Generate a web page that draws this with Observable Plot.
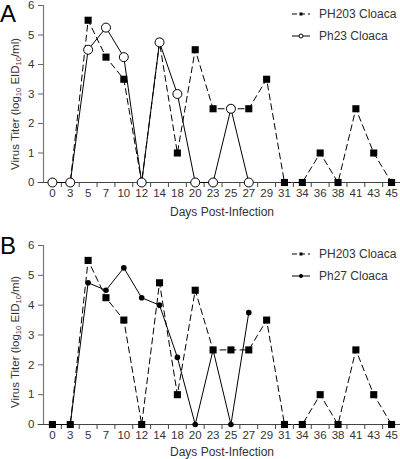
<!DOCTYPE html>
<html>
<head>
<meta charset="utf-8">
<script src="https://cdn.jsdelivr.net/npm/d3@7"></script>
<script src="https://cdn.jsdelivr.net/npm/@observablehq/plot@0.6"></script>
<style>
  body { margin: 0; background: #fff; font-family: "Liberation Sans", Arial, sans-serif; }
  #wrap { width: 400px; }
  .panel { position: relative; width: 400px; }
  .panel svg { display: block; }
  .letter { position: absolute; left: 0; font-size: 24px; line-height: 1; color: #000; }
  .ytitle { position: absolute; white-space: nowrap; font-size: 11.5px; color: #333;
            transform: translate(-50%, -50%) rotate(-90deg); }
  .ytitle sub { font-size: 7.5px; vertical-align: -2px; line-height: 0; }
  .legend { position: absolute; left: 292px; font-size: 12px; color: #333; }
  .legend .row { display: flex; align-items: center; height: 22px; }
  .legend svg { margin-right: 9px; }
</style>
</head>
<body>
<div id="wrap"></div>
<script>
// ---- data ----
const days = [0, 3, 5, 7, 10, 12, 14, 18, 20, 23, 25, 27, 29, 31, 34, 36, 38, 41, 43, 45];
const ph203 = [0, 0, 5.5, 4.25, 3.5, 0, 4.75, 1, 4.5, 2.5, 2.5, 2.5, 3.5, 0, 0, 1, 0, 2.5, 1, 0];
const ph23 = [0, 0, 4.5, 5.25, 4.25, 0, 4.75, 3, 0, 0, 2.5, 0];
const ph27 = [0, 0, 4.75, 4.5, 5.25, 4.25, 4, 2.25, 0, 2.5, 0, 3.75];
const yTicks = [0, 1, 2, 3, 4, 5, 6];
const seriesA = ["PH203 Cloaca", "Ph23 Cloaca"];
const seriesB = ["PH203 Cloaca", "Ph27 Cloaca"];
const xTitle = "Days Post-Infection";

const toRows = (vals) => vals.map((v, i) => ({i, day: days[i], v}));
const idx = days.map((d, i) => i);
const bounds = days.slice(1).map((d, i) => i + 0.5);

function makePlot({height, marginTop, marginBottom, titleDy, second, secondStyle}) {
  const r203 = toRows(ph203);
  const r2 = toRows(second);
  const dashedLine = Plot.line(r203, {x: "i", y: "v", stroke: "#000", strokeWidth: 1, strokeDasharray: "6,4"});
  const squares = Plot.dot(r203, {x: "i", y: "v", symbol: "square", r: 4, fill: "#000", stroke: "none"});
  const solidLine = Plot.line(r2, {x: "i", y: "v", stroke: "#000", strokeWidth: 1});
  const circles = secondStyle === "open"
    ? Plot.dot(r2, {x: "i", y: "v", r: 4.5, fill: "#fff", stroke: "#000", strokeWidth: 1})
    : Plot.dot(r2, {x: "i", y: "v", r: 2.8, fill: "#000", stroke: "none"});
  const dataMarks = secondStyle === "open"
    ? [dashedLine, squares, solidLine, circles]
    : [solidLine, circles, dashedLine, squares];
  return Plot.plot({
    width: 400,
    height,
    marginLeft: 43,
    marginRight: 0,
    marginTop,
    marginBottom,
    style: {fontFamily: "'Liberation Sans', Arial, sans-serif", fontSize: "11.5px", color: "#333", background: "#fff"},
    x: {type: "linear", domain: [-0.5, days.length - 0.5], axis: null},
    y: {domain: [0, 6], axis: null},
    marks: [
      Plot.axisY({ticks: yTicks, tickFormat: (d) => String(d), tickSize: 5, tickPadding: 4, label: null, stroke: "#666"}),
      Plot.ruleX([-0.5], {y1: 0, y2: 6, stroke: "#777", strokeWidth: 1.2}),
      Plot.axisX({ticks: bounds, tickFormat: () => "", tickSize: 5, label: null, stroke: "#444"}),
      Plot.axisX({ticks: idx, tickFormat: (i) => String(days[i]), tickSize: 0, tickPadding: 6, label: null}),
      Plot.ruleY([0], {x1: -0.8, x2: days.length - 0.5, stroke: "#444", strokeWidth: 1}),
      Plot.text([xTitle], {text: (d) => d, frameAnchor: "bottom", dy: titleDy, lineAnchor: "middle", fontSize: 12, fill: "#333"}),
      ...dataMarks
    ]
  });
}

function legendSymbol(kind) {
  const ns = "http://www.w3.org/2000/svg";
  const s = document.createElementNS(ns, "svg");
  s.setAttribute("width", "18"); s.setAttribute("height", "8");
  const l = document.createElementNS(ns, "line");
  l.setAttribute("x1", "0"); l.setAttribute("x2", "18"); l.setAttribute("y1", "4"); l.setAttribute("y2", "4");
  l.setAttribute("stroke", "#000"); l.setAttribute("stroke-width", "1");
  if (kind === "dash") l.setAttribute("stroke-dasharray", "5,3");
  s.appendChild(l);
  if (kind === "dash") {
    const r = document.createElementNS(ns, "rect");
    r.setAttribute("x", "7.5"); r.setAttribute("y", "2.5"); r.setAttribute("width", "3"); r.setAttribute("height", "3");
    r.setAttribute("fill", "#000"); s.appendChild(r);
  } else {
    const c = document.createElementNS(ns, "circle");
    c.setAttribute("cx", "9"); c.setAttribute("cy", "4"); c.setAttribute("r", kind === "open" ? "2" : "1.6");
    c.setAttribute("fill", kind === "open" ? "#fff" : "#000"); c.setAttribute("stroke", "#000");
    s.appendChild(c);
  }
  return s;
}

function buildPanel({letter, letterTop, height, marginTop, marginBottom, titleDy, yTitleY, second, secondStyle, names, legendTop}) {
  const div = document.createElement("div");
  div.className = "panel";
  div.style.height = height + "px";
  div.appendChild(makePlot({height, marginTop, marginBottom, titleDy, second, secondStyle}));
  const L = document.createElement("div");
  L.className = "letter"; L.textContent = letter; L.style.top = letterTop + "px";
  div.appendChild(L);
  const yt = document.createElement("div");
  yt.className = "ytitle";
  yt.innerHTML = "Virus Titer (log<sub>10</sub> EID<sub>10</sub>/ml)";
  yt.style.left = "15px";
  yt.style.top = yTitleY + "px";
  div.appendChild(yt);
  const lg = document.createElement("div");
  lg.className = "legend"; lg.style.top = legendTop + "px";
  const kinds = ["dash", secondStyle];
  names.forEach((n, k) => {
    const row = document.createElement("div"); row.className = "row";
    row.appendChild(legendSymbol(kinds[k]));
    const t = document.createElement("span"); t.textContent = n; row.appendChild(t);
    lg.appendChild(row);
  });
  div.appendChild(lg);
  return div;
}

const wrap = document.getElementById("wrap");
wrap.appendChild(buildPanel({letter: "A", letterTop: 2, height: 220, marginTop: 5, marginBottom: 38, titleDy: 30,
  yTitleY: 104, second: ph23, secondStyle: "open", names: seriesA, legendTop: 3}));
wrap.appendChild(buildPanel({letter: "B", letterTop: 14, height: 239, marginTop: 25, marginBottom: 35, titleDy: 28,
  yTitleY: 122, second: ph27, secondStyle: "filled", names: seriesB, legendTop: 23}));
</script>
</body>
</html>
